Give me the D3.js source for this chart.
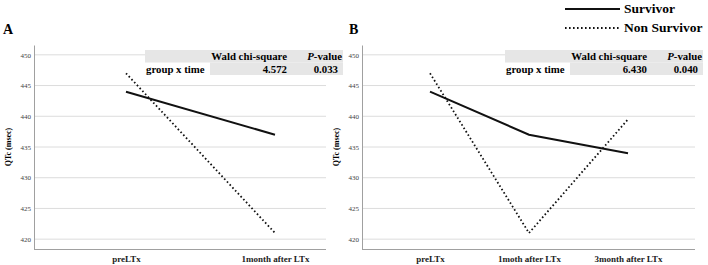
<!DOCTYPE html>
<html>
<head>
<meta charset="utf-8">
<script src="https://cdn.jsdelivr.net/npm/d3@7"></script>
<style>
  body { margin: 0; background: #fff; }
  svg { display: block; font-family: "Liberation Serif", "Times New Roman", serif; }
</style>
</head>
<body>
<svg id="chart" width="708" height="265"></svg>
<script>
// data
const timesA = ["preLTx", "1month after LTx"];
const survivorA = [444, 437];
const nonSurvivorA = [447, 421];

const timesB = ["preLTx", "1moth after LTx", "3month after LTx"];
const survivorB = [444, 437, 434];
const nonSurvivorB = [447, 421, 439.5];

const yTicks = [420, 425, 430, 435, 440, 445, 450];
const tableHeader = ["", "Wald chi-square", "P-value"];
const tableRowA = ["group x time", "4.572", "0.033"];
const tableRowB = ["group x time", "6.430", "0.040"];
const legendNames = ["Survivor", "Non Survivor"];

const svg = d3.select("#chart");
const dotted = "1.6,2.4";
const tfs = "10.8px";

const panels = [
    {label: "A", times: timesA, surv: survivorA, non: nonSurvivorA, row: tableRowA,
     axisX: 34, right: 326, xr: [126, 275], labelX: 3, titleX: 11, tableX: 145},
    {label: "B", times: timesB, surv: survivorB, non: nonSurvivorB, row: tableRowB,
     axisX: 362, right: 695, xr: [430, 628], labelX: 349, titleX: 339, tableX: 505}
];

const y = d3.scaleLinear().domain([418.4, 451.6]).range([249, 45]);
const colW = [65, 80, 53];

panels.forEach(p => {
    const g = svg.append("g");
    const x = d3.scalePoint().domain(p.times).range(p.xr);

    // gridlines
    g.append("g").selectAll("line").data(yTicks).enter().append("line")
        .attr("x1", p.axisX).attr("x2", p.right)
        .attr("y1", d => y(d)).attr("y2", d => y(d))
        .style("stroke", "#dcdcdc").style("stroke-width", 1);

    // axis_y
    const ay = g.append("g").attr("transform", `translate(${p.axisX},0)`)
        .call(d3.axisLeft(y).tickValues(yTicks).tickSize(0).tickPadding(3));
    ay.select(".domain").style("stroke", "#a0a0a0");
    ay.selectAll("text").attr("fill", null)
        .style("font-family", "Liberation Serif, serif").style("font-size", "7px").style("fill", "#444");

    // axis_x
    g.append("line").attr("x1", p.axisX).attr("x2", p.right).attr("y1", 249.5).attr("y2", 249.5)
        .style("stroke", "#a0a0a0");
    const ax = g.append("g").attr("transform", "translate(0,249.5)")
        .call(d3.axisBottom(x).tickSize(0).tickPadding(6));
    ax.select(".domain").remove();
    ax.selectAll("text").attr("fill", null)
        .style("font-family", "Liberation Serif, serif").style("font-size", "9px")
        .style("font-weight", "bold").style("fill", "#222");

    // y title
    g.append("text").attr("transform", `translate(${p.titleX},147) rotate(-90)`)
        .attr("text-anchor", "middle").style("font-size", "8px").style("font-weight", "bold")
        .text("QTc (msec)");

    // panel label
    g.append("text").attr("x", p.labelX).attr("y", 34).style("font-size", "14px").style("font-weight", "bold")
        .text(p.label);

    // lines
    const line = d3.line().x((d, i) => x(p.times[i])).y(d => y(d));
    g.append("path").datum(p.surv).attr("d", line)
        .style("fill", "none").style("stroke", "#111").style("stroke-width", 2);
    g.append("path").datum(p.non).attr("d", line)
        .style("fill", "none").style("stroke", "#111").style("stroke-width", 1.8)
        .style("stroke-dasharray", dotted);

    // table
    const t = g.append("g");
    const cx = [p.tableX, p.tableX + colW[0], p.tableX + colW[0] + colW[1], p.tableX + colW[0] + colW[1] + colW[2]];
    t.append("rect").attr("x", cx[0]).attr("y", 50).attr("width", cx[3] - cx[0]).attr("height", 12.5).style("fill", "#e6e6e6");
    t.append("rect").attr("x", cx[1]).attr("y", 62.5).attr("width", cx[3] - cx[1]).attr("height", 12.5).style("fill", "#e6e6e6");
    t.append("text").attr("x", cx[2] - 3).attr("y", 60).attr("text-anchor", "end")
        .style("font-size", tfs).style("font-weight", "bold").text(tableHeader[1]);
    const pv = t.append("text").attr("x", cx[3] - 1).attr("y", 60).attr("text-anchor", "end")
        .style("font-size", tfs).style("font-weight", "bold");
    pv.append("tspan").style("font-style", "italic").text(tableHeader[2].slice(0, 1));
    pv.append("tspan").text(tableHeader[2].slice(1));
    t.append("text").attr("x", cx[0] + 1).attr("y", 72.5).style("font-size", tfs).style("font-weight", "bold").text(p.row[0]);
    t.append("text").attr("x", cx[2] - 3).attr("y", 72.5).attr("text-anchor", "end")
        .style("font-size", tfs).style("font-weight", "bold").text(p.row[1]);
    t.append("text").attr("x", cx[3] - 5).attr("y", 72.5).attr("text-anchor", "end")
        .style("font-size", tfs).style("font-weight", "bold").text(p.row[2]);
});

// legend
const lg = svg.append("g");
lg.selectAll("line").data(legendNames).enter().append("line")
    .attr("x1", 565).attr("x2", 620)
    .attr("y1", (d, i) => 9 + i * 19).attr("y2", (d, i) => 9 + i * 19)
    .style("stroke", "#111").style("stroke-width", 2)
    .style("stroke-dasharray", (d, i) => i ? dotted : null);
lg.selectAll("text").data(legendNames).enter().append("text")
    .attr("x", 624).attr("y", (d, i) => 13 + i * 19)
    .style("font-size", "13.5px").style("font-weight", "bold")
    .text(d => d);
</script>
</body>
</html>
